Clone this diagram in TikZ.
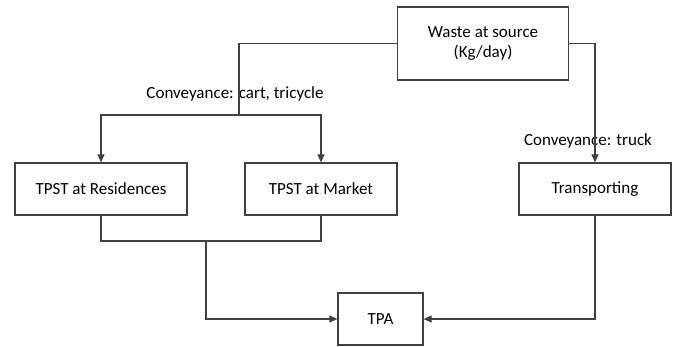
\documentclass[tikz,border=0pt]{standalone}
\usepackage{fontspec}
\setmainfont{Carlito}
\usetikzlibrary{arrows.meta}
\begin{document}
\begin{tikzpicture}[x=1pt,y=-1pt,
  box/.style={draw=black!75,line width=1.2pt,fill=white,inner sep=0pt,align=center,font=\fontsize{17}{20}\selectfont},
  conn/.style={draw=black!75,line width=1.1pt},
  arr/.style={conn,-{Triangle[length=8pt,width=7pt]}},
  lab/.style={font=\fontsize{17}{20}\selectfont,inner sep=0pt}]
\useasboundingbox (0,0) rectangle (674,347);
\node[box,minimum width=171pt,minimum height=73pt] (waste) at (483,43.5) {Waste at source\\(Kg/day)};
\node[box,minimum width=172pt,minimum height=52pt] (res) at (101,189) {TPST at Residences};
\node[box,minimum width=152pt,minimum height=52pt] (mkt) at (321,189) {TPST at Market};
\node[box,minimum width=152pt,minimum height=52pt] (trans) at (595,189) {Transporting};
\node[box,minimum width=85pt,minimum height=52pt] (tpa) at (380.5,319) {TPA};
\coordinate (split) at (239,115);
\coordinate (join) at (206,241);
\node[lab] (lab1) at (235,94) {Conveyance: cart, tricycle};
\node[lab] (lab2) at (588,141) {Conveyance: truck};
\draw[conn] (waste.west) -| (split);
\draw[arr] (split) -| (res.north);
\draw[arr] (split) -| (mkt.north);
\draw[arr] (waste.east) -| (trans.north);
\draw[conn] (res.south) |- (join) -| (mkt.south);
\draw[arr] (join) |- (tpa.west);
\draw[arr] (trans.south) |- (tpa.east);
\end{tikzpicture}
\end{document}
